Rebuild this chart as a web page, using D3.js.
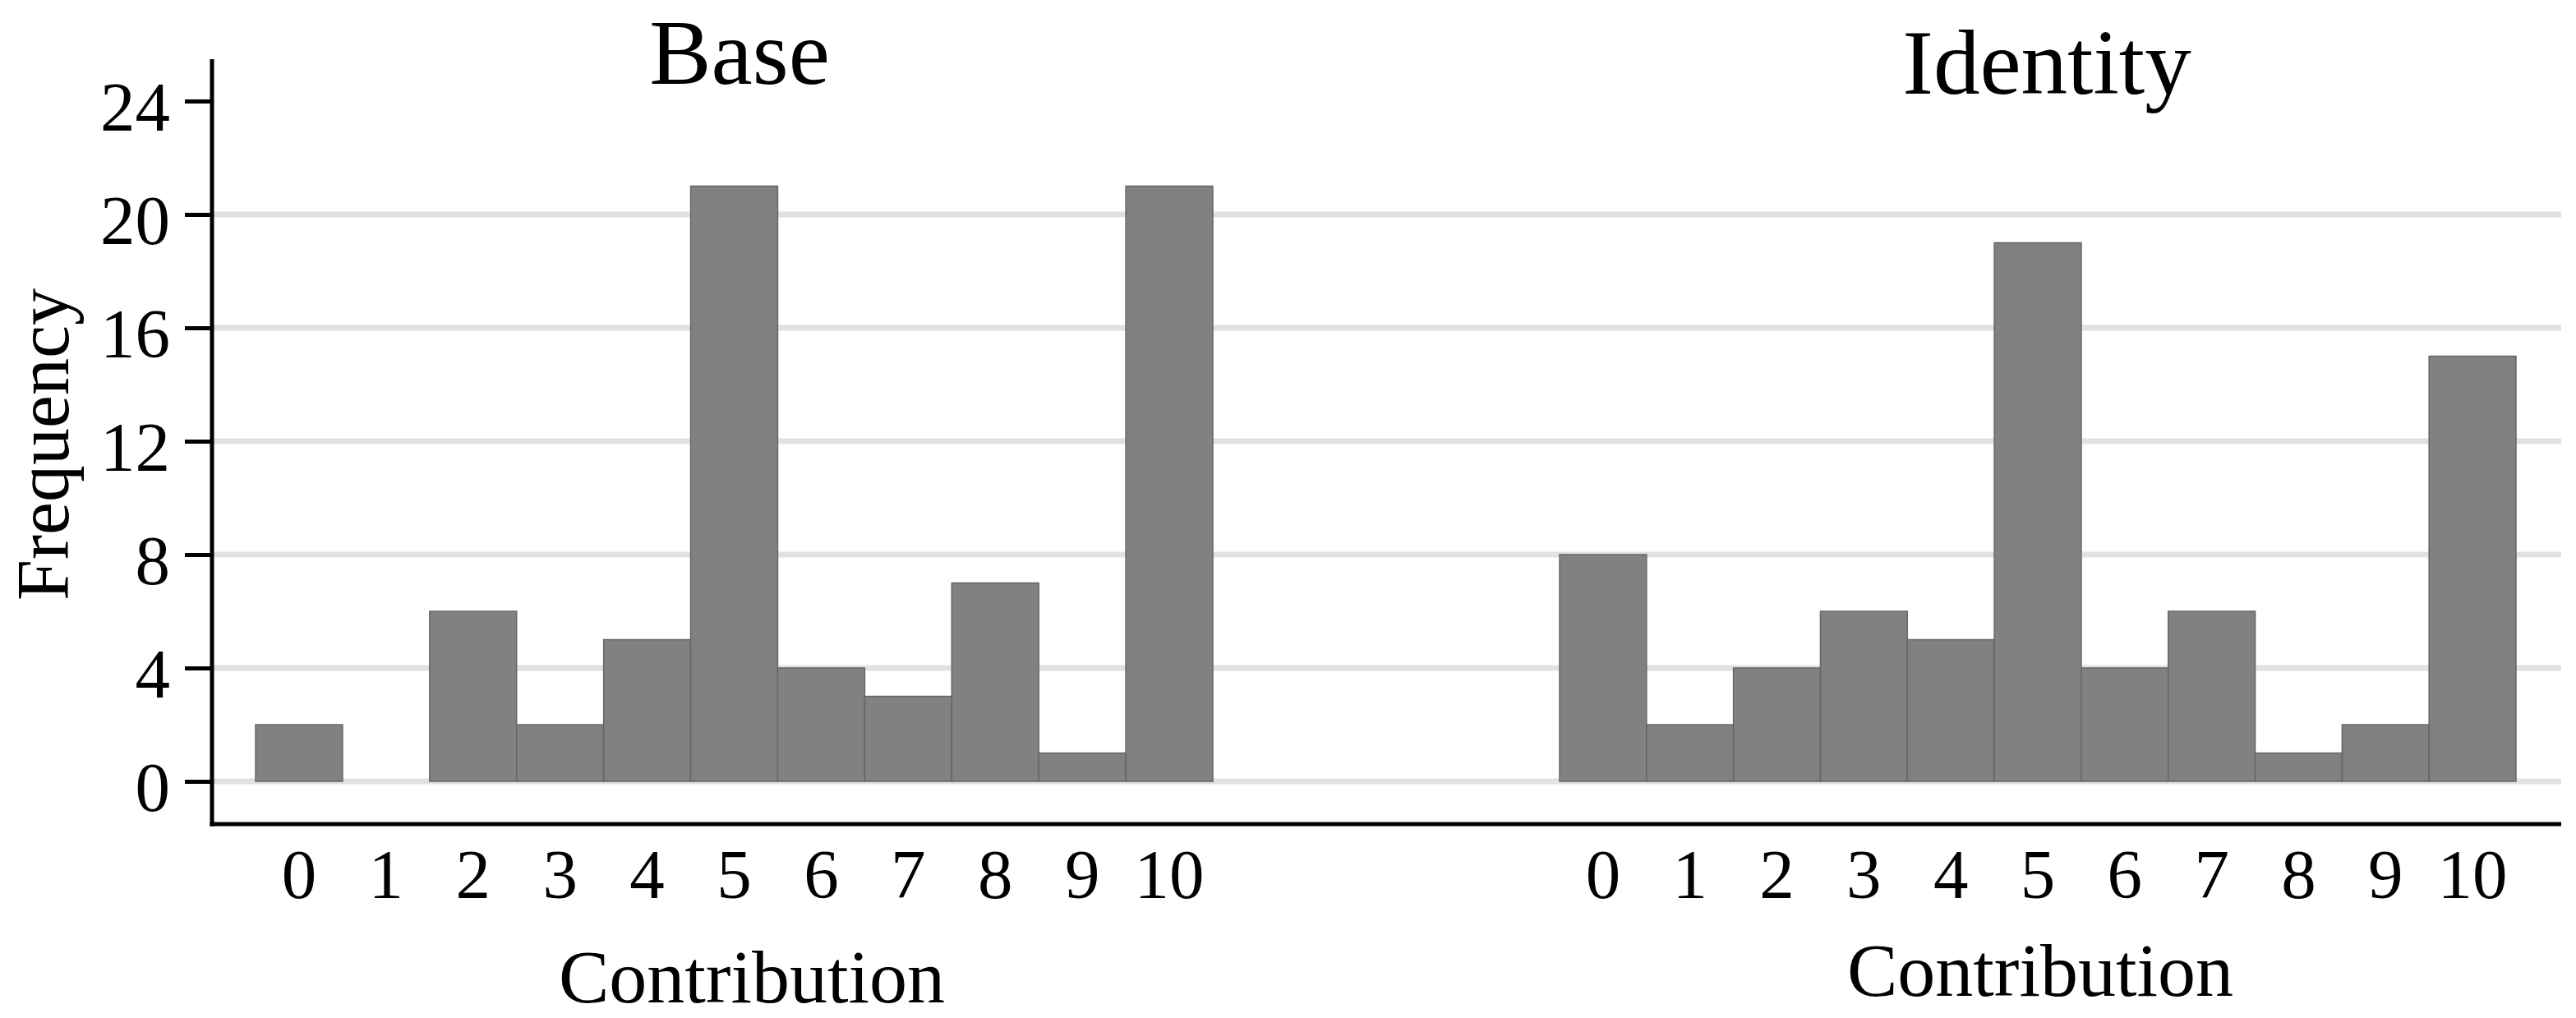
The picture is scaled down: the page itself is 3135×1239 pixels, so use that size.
<!DOCTYPE html>
<html>
<head>
<meta charset="utf-8">
<script src="https://cdn.jsdelivr.net/npm/d3@7"></script>
<style>
body{margin:0;background:#fff;}
text{font-family:"Liberation Serif","Times New Roman",serif;fill:#000;}
</style>
</head>
<body>
<svg id="chart" width="3135" height="1239"></svg>
<script>
// data
const contributions=[0,1,2,3,4,5,6,7,8,9,10];
const base_freq=[2,0,6,2,5,21,4,3,7,1,21];
const identity_freq=[8,2,4,6,5,19,4,6,1,2,15];
const y_ticks=[0,4,8,12,16,20,24];
const grid_ticks=[0,4,8,12,16,20];
const panel_titles=["Base","Identity"];

const svg=d3.select("#chart");

// layout
const axis_x=258;
const axis_top=72;
const axis_bottom=1003;
const plot_right=3117;

const y=d3.scaleLinear().domain([0,24]).range([951,123]);

const panels=[
    {title:panel_titles[0],values:base_freq,range:[311,1476],title_x:900,title_y:102,xlab_x:915,xlab_y:1220},
    {title:panel_titles[1],values:identity_freq,range:[1898,3062],title_x:2491,title_y:114,xlab_x:2483,xlab_y:1212}
];

// grid lines
svg.append("g").selectAll("line")
    .data(grid_ticks)
    .join("line")
    .attr("x1",axis_x)
    .attr("x2",plot_right)
    .attr("y1",d=>y(d))
    .attr("y2",d=>y(d))
    .attr("stroke","#e0e1e0")
    .attr("stroke-width",7);

// bars and panel text
for (const p of panels){
    const x=d3.scaleBand().domain(contributions).range(p.range).padding(0);

    svg.append("g").selectAll("rect")
        .data(contributions.filter((c,i)=>p.values[i]>0))
        .join("rect")
        .attr("x",c=>x(c))
        .attr("y",c=>y(p.values[c]))
        .attr("width",x.bandwidth())
        .attr("height",c=>y(0)-y(p.values[c]))
        .attr("fill","#818181")
        .attr("stroke","#666666")
        .attr("stroke-width",1.5);

    // x tick labels
    svg.append("g").selectAll("text")
        .data(contributions)
        .join("text")
        .attr("x",c=>x(c)+x.bandwidth()/2)
        .attr("y",1093)
        .attr("text-anchor","middle")
        .style("font-size","85px")
        .text(c=>c);

    svg.append("text")
        .attr("x",p.title_x)
        .attr("y",p.title_y)
        .attr("text-anchor","middle")
        .style("font-size","113px")
        .text(p.title);

    svg.append("text")
        .attr("x",p.xlab_x)
        .attr("y",p.xlab_y)
        .attr("text-anchor","middle")
        .style("font-size","92px")
        .text("Contribution");
}

// y axis
const y_axis=d3.axisLeft(y).tickValues(y_ticks).tickSize(33).tickPadding(18).tickFormat(d3.format("d"));
const gy=svg.append("g").attr("transform","translate("+axis_x+",0)").call(y_axis);
gy.select(".domain").remove();
gy.selectAll(".tick line").attr("stroke","#000").attr("stroke-width",5);
gy.selectAll(".tick text")
    .attr("dy",null)
    .attr("y",35)
    .style("font-size","85px")
    .style("font-family","'Liberation Serif','Times New Roman',serif");

svg.append("line")
    .attr("x1",axis_x)
    .attr("x2",axis_x)
    .attr("y1",axis_top)
    .attr("y2",axis_bottom+2.5)
    .attr("stroke","#000")
    .attr("stroke-width",5);

// x axis line
svg.append("line")
    .attr("x1",axis_x-2.5)
    .attr("x2",plot_right)
    .attr("y1",axis_bottom)
    .attr("y2",axis_bottom)
    .attr("stroke","#000")
    .attr("stroke-width",5);

// y label
svg.append("text")
    .attr("transform","translate(83,541) rotate(-90)")
    .attr("text-anchor","middle")
    .style("font-size","90px")
    .text("Frequency");
</script>
</body>
</html>
